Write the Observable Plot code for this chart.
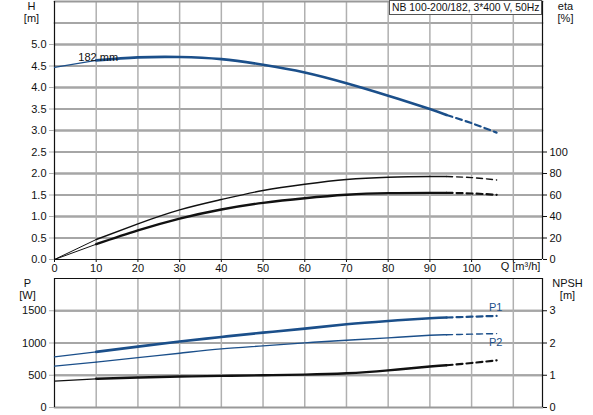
<!DOCTYPE html>
<html>
<head>
<meta charset="utf-8">
<script src="https://cdn.jsdelivr.net/npm/d3@7"></script>
<script src="https://cdn.jsdelivr.net/npm/@observablehq/plot@0.6"></script>
<style>
  html, body { margin: 0; padding: 0; background: white; }
  #wrap { position: relative; width: 593px; height: 415px; font-family: "Liberation Sans", Arial, sans-serif; }
  #wrap svg { display: block; }
  #title { position: absolute; left: 389px; top: 0px; width: 149px; height: 13px; padding: 0 0 0 2px; border: 1px solid #555; background: white;
           font-size: 10.4px; line-height: 13px; white-space: nowrap; color: #111; overflow: hidden; }
</style>
</head>
<body>
<div id="wrap">
  <div id="topPanel"></div>
  <div id="bottomPanel"></div>
  <div id="title">NB 100-200/182, 3*400 V, 50Hz</div>
</div>
<script>
// ---- data ----
const Q      = [0, 10, 20, 30, 40, 50, 60, 70, 80, 90, 94];
const Q_DASH = [94, 100, 106];

const HEAD      = [4.47, 4.63, 4.70, 4.71, 4.66, 4.53, 4.35, 4.10, 3.81, 3.50, 3.36];
const HEAD_DASH = [3.36, 3.17, 2.95];

const ETA_PUMP      = [0, 18.6, 33.2, 46.2, 55.8, 64.2, 70.0, 74.4, 76.5, 77.2, 77.2];
const ETA_PUMP_DASH = [77.2, 76.2, 74.0];
const ETA_TOT       = [0, 14.2, 27.0, 38.0, 46.5, 52.7, 57.0, 60.2, 61.7, 62.0, 62.0];
const ETA_TOT_DASH  = [62.0, 61.4, 60.2];

const P1      = [785, 862, 944, 1022, 1094, 1161, 1223, 1291, 1342, 1384, 1395];
const P1_DASH = [1395, 1408, 1420];
const P2      = [641, 703, 774, 842, 909, 955, 1002, 1043, 1079, 1121, 1128];
const P2_DASH = [1128, 1137, 1146];
const NPSH      = [0.82, 0.89, 0.93, 0.96, 0.98, 1.00, 1.02, 1.06, 1.15, 1.27, 1.31];
const NPSH_DASH = [1.31, 1.38, 1.46];

const X_TICKS    = [0, 10, 20, 30, 40, 50, 60, 70, 80, 90, 100, 110];
const H_TICKS    = [0, 0.5, 1, 1.5, 2, 2.5, 3, 3.5, 4, 4.5, 5];
const H_GRID     = [0.5, 1, 1.5, 2, 2.5, 3, 3.5, 4, 4.5, 5, 5.5];
const ETA_TICKS  = [0, 20, 40, 60, 80, 100];
const P_TICKS    = [0, 500, 1000, 1500];
const P_GRID     = [500, 1000, 1500];
const NPSH_TICKS = [0, 1, 2, 3];

const CURVE_LABEL = "182 mm";
const X_LABEL = "Q [m³/h]";

// ---- helpers ----
const ETA_TO_H = 40;     // 100 % sits at 2.5 m on the shared scale
const NPSH_TO_P = 500;   // 1 m sits at 500 W on the shared scale
const rows = (qs, vs, f = v => v) => qs.map((q, i) => ({q, v: f(vs[i])}));
const parts = (vs, dash, f) => ({
  thin: rows(Q.slice(0, 2), vs.slice(0, 2), f),
  main: rows(Q.slice(1), vs.slice(1), f),
  dash: rows(Q_DASH, dash, f)
});

const BLUE = "#1b4f8a";
const GRID = "#b0b0b0";
const HGRID = "#a6a6a6";
const FONT = "'Liberation Sans', Arial, sans-serif";
const X_DOMAIN = [0, 117];

// horizontal lines across the whole x domain, drawn as two-point lines through the scales
const hLines = (vals, color, w) => Plot.line(
  vals.flatMap(v => [{q: X_DOMAIN[0], v}, {q: X_DOMAIN[1], v}]),
  {x: "q", y: "v", z: "v", stroke: color, strokeWidth: w}
);

function curveMarks(p, color, wMain, wThin, wDash) {
  return [
    Plot.line(p.thin, {x: "q", y: "v", stroke: color, strokeWidth: wThin, curve: "natural"}),
    Plot.line(p.main, {x: "q", y: "v", stroke: color, strokeWidth: wMain, curve: "natural"}),
    Plot.line(p.dash, {x: "q", y: "v", stroke: color, strokeWidth: wDash, curve: "natural", strokeDasharray: "6,4"})
  ];
}

const headC = parts(HEAD, HEAD_DASH);
const etaP = parts(ETA_PUMP, ETA_PUMP_DASH, v => v / ETA_TO_H);
const etaT = parts(ETA_TOT, ETA_TOT_DASH, v => v / ETA_TO_H);
const p1C = parts(P1, P1_DASH);
const p2C = parts(P2, P2_DASH);
const npshC = parts(NPSH, NPSH_DASH, v => v * NPSH_TO_P);

// ---- top panel: H and eta ----
const topChart = Plot.plot({
  width: 593, height: 276,
  marginLeft: 54, marginRight: 51, marginTop: 1, marginBottom: 17,
  style: {fontFamily: FONT, fontSize: "11px", color: "#111", background: "white"},
  x: {domain: X_DOMAIN},
  y: {domain: [0, 6]},
  marks: [
    Plot.gridY(H_GRID, {stroke: HGRID, strokeOpacity: 1, strokeWidth: 2}),
    hLines(H_GRID, HGRID, 2),
    Plot.ruleX(X_TICKS.slice(1), {stroke: GRID, strokeWidth: 1.5}),
    hLines([6], "#999", 2),
    Plot.ruleX([X_DOMAIN[0], X_DOMAIN[1]], {stroke: "#111", strokeWidth: 1.2}),
    Plot.ruleY([0], {stroke: "#111", strokeWidth: 1.2}),
    Plot.axisY({anchor: "left", ticks: H_TICKS, tickFormat: d3.format(".1f"), tickSize: 5, tickPadding: 3, label: null, stroke: GRID}),
    Plot.axisY({anchor: "right", ticks: ETA_TICKS.map(e => e / ETA_TO_H), tickFormat: d => String(Math.round(d * ETA_TO_H)), tickSize: 4, tickPadding: 3, label: null}),
    Plot.axisX({ticks: X_TICKS, tickFormat: d => d === 110 ? "" : String(d), tickSize: 3, tickPadding: 2, label: null}),
    Plot.text([X_LABEL], {frameAnchor: "bottom-right", dx: -22, dy: 10, text: d => d, textAnchor: "middle"}),
    Plot.text(["H\n[m]"], {frameAnchor: "top-left", dx: -23, dy: 0, lineAnchor: "top", lineHeight: 1.1, textAnchor: "middle", text: d => d}),
    Plot.text(["eta\n[%]"], {frameAnchor: "top-right", dx: 23, dy: 0, lineAnchor: "top", lineHeight: 1.1, textAnchor: "middle", text: d => d}),
    ...curveMarks(etaP, "#111", 1.4, 1, 1.4),
    ...curveMarks(etaT, "#111", 2.4, 1, 2.2),
    ...curveMarks(headC, BLUE, 2.6, 1.2, 2.2),
    Plot.text([{q: Q[1], v: HEAD[1]}], {x: "q", y: "v", text: () => CURVE_LABEL, dx: 2, dy: -3})
  ]
});
document.getElementById("topPanel").appendChild(topChart);

// ---- bottom panel: P and NPSH ----
const bottomChart = Plot.plot({
  width: 593, height: 139,
  marginLeft: 54, marginRight: 51, marginTop: 2, marginBottom: 8,
  style: {fontFamily: FONT, fontSize: "11px", color: "#111", background: "white"},
  x: {domain: X_DOMAIN, axis: null},
  y: {domain: [0, 2000]},
  marks: [
    Plot.gridY(P_GRID, {stroke: HGRID, strokeOpacity: 1, strokeWidth: 2}),
    hLines(P_GRID, HGRID, 2),
    Plot.ruleX(X_TICKS.slice(1), {stroke: GRID, strokeWidth: 1.5}),
    hLines([0], "#999", 2),
    Plot.ruleY([2000], {stroke: "#111", strokeWidth: 1.2}),
    Plot.ruleX([X_DOMAIN[0], X_DOMAIN[1]], {stroke: "#111", strokeWidth: 1.2}),
    Plot.axisY({anchor: "left", ticks: P_TICKS, tickSize: 5, tickPadding: 3, label: null, tickFormat: d => String(d), stroke: GRID}),
    Plot.axisY({anchor: "right", ticks: NPSH_TICKS.map(n => n * NPSH_TO_P), tickFormat: d => String(Math.round(d / NPSH_TO_P)), tickSize: 4, tickPadding: 3, label: null}),
    Plot.text(["P\n[W]"], {frameAnchor: "top-left", dx: -27, dy: 0, lineAnchor: "top", lineHeight: 1.1, textAnchor: "middle", text: d => d}),
    Plot.text(["NPSH\n[m]"], {frameAnchor: "top-right", dx: 25, dy: 0, lineAnchor: "top", lineHeight: 1.1, textAnchor: "middle", text: d => d}),
    ...curveMarks(npshC, "#111", 2.4, 1.2, 2.2),
    ...curveMarks(p2C, BLUE, 1.4, 1.2, 1.4),
    ...curveMarks(p1C, BLUE, 2.6, 1.4, 2.2),
    Plot.text([{q: Q_DASH[2], v: P1_DASH[2]}], {x: "q", y: "v", text: () => "P1", dx: -1, dy: -8, fill: BLUE}),
    Plot.text([{q: Q_DASH[2], v: P2_DASH[2]}], {x: "q", y: "v", text: () => "P2", dx: -1, dy: 9, fill: BLUE})
  ]
});
document.getElementById("bottomPanel").appendChild(bottomChart);
</script>
</body>
</html>
